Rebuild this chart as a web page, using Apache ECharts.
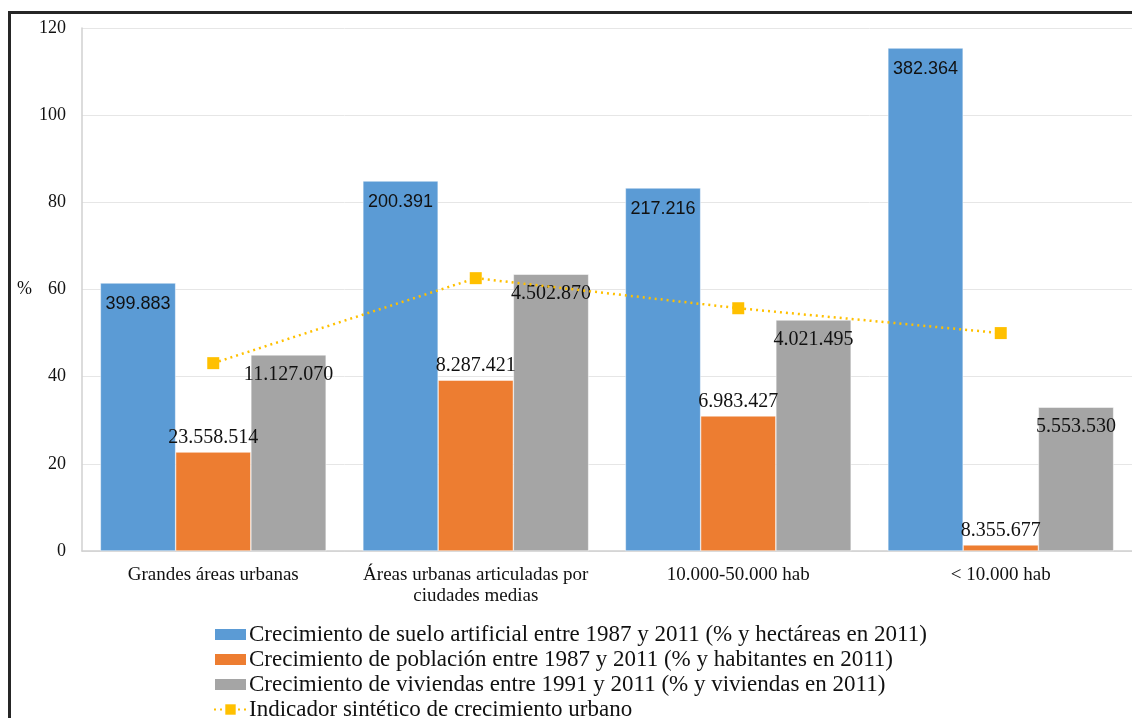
<!DOCTYPE html>
<html>
<head>
<meta charset="utf-8">
<script src="https://cdn.jsdelivr.net/npm/echarts@6/dist/echarts.min.js"></script>
<style>
  html, body { margin: 0; padding: 0; background: #fff; }
  #chart { width: 1132px; height: 718px; }
</style>
</head>
<body>
<div id="chart"></div>
<script>
// Categories of urban areas
const categories = [
  'Grandes áreas urbanas',
  'Áreas urbanas articuladas por\nciudades medias',
  '10.000-50.000 hab',
  '< 10.000 hab'
];

// Growth percentages
const sueloPct = [61.5, 84.9, 83.3, 115.4];
const poblacionPct = [22.7, 39.2, 31.0, 1.4];
const viviendasPct = [45.0, 63.5, 53.0, 33.0];
const indicador = [43.1, 62.6, 55.7, 50.0];

// Absolute figures in 2011 shown on the bars
const hectareas = ['399.883', '200.391', '217.216', '382.364'];
const habitantes = ['23.558.514', '8.287.421', '6.983.427', '8.355.677'];
const viviendas = ['11.127.070', '4.502.870', '4.021.495', '5.553.530'];

const yTicks = { min: 0, max: 120, interval: 20 };

const serif = '"Liberation Serif", "Times New Roman", serif';
const sans = '"Liberation Sans", Arial, sans-serif';

const chart = echarts.init(document.getElementById('chart'));

chart.setOption({
  animation: false,
  backgroundColor: '#fff',
  graphic: [{
    type: 'rect',
    shape: { x: 9.5, y: 12.5, width: 1300, height: 900 },
    style: { fill: 'none', stroke: '#262626', lineWidth: 3 },
    silent: true,
    z: 100
  }],
  grid: { left: 82, top: 28, width: 1052, height: 523, containLabel: false },
  legend: {
    orient: 'vertical',
    left: 213,
    top: 622,
    height: 120,
    padding: 0,
    itemWidth: 33,
    itemHeight: 13,
    itemGap: 0,
    textStyle: { fontFamily: serif, fontSize: 23, color: '#111', lineHeight: 25, padding: [0, 0, 0, -3] },
    data: [
      { name: 'Crecimiento de suelo artificial entre 1987 y 2011 (% y hectáreas en 2011)', icon: 'rect' },
      { name: 'Crecimiento de población entre 1987 y 2011 (% y habitantes en 2011)', icon: 'rect' },
      { name: 'Crecimiento de viviendas entre 1991 y 2011 (% y viviendas en 2011)', icon: 'rect' },
      { name: 'Indicador sintético de crecimiento urbano' }
    ]
  },
  xAxis: {
    type: 'category',
    data: categories,
    axisLine: { lineStyle: { color: '#d0d0d0', width: 1.5 } },
    axisTick: { show: false },
    axisLabel: { fontFamily: serif, fontSize: 19, color: '#111', margin: 14, lineHeight: 21, interval: 0 }
  },
  yAxis: {
    type: 'value',
    min: yTicks.min,
    max: yTicks.max,
    interval: yTicks.interval,
    name: '%',
    nameLocation: 'middle',
    nameRotate: 0,
    nameGap: 50,
    nameTextStyle: { fontFamily: serif, fontSize: 18, color: '#111' },
    axisLine: { show: true, lineStyle: { color: '#d0d0d0', width: 1.5 } },
    axisTick: { show: false },
    splitLine: { lineStyle: { color: '#e6e6e6', width: 1 } },
    axisLabel: { fontFamily: serif, fontSize: 18, color: '#111', margin: 16 }
  },
  series: [
    {
      name: 'Crecimiento de suelo artificial entre 1987 y 2011 (% y hectáreas en 2011)',
      type: 'bar',
      data: sueloPct,
      barGap: '0%',
      barCategoryGap: '14%',
      itemStyle: { color: '#5B9BD5', borderColor: '#ffffff', borderWidth: 0.5 },
      label: {
        show: true,
        position: 'insideTop',
        distance: 12,
        fontFamily: sans,
        fontSize: 18,
        color: '#111',
        formatter: p => hectareas[p.dataIndex]
      }
    },
    {
      name: 'Crecimiento de población entre 1987 y 2011 (% y habitantes en 2011)',
      type: 'bar',
      data: poblacionPct,
      itemStyle: { color: '#ED7D31', borderColor: '#ffffff', borderWidth: 0.5 },
      label: {
        show: true,
        position: 'top',
        distance: 4,
        fontFamily: serif,
        fontSize: 20,
        color: '#111',
        formatter: p => habitantes[p.dataIndex]
      }
    },
    {
      name: 'Crecimiento de viviendas entre 1991 y 2011 (% y viviendas en 2011)',
      type: 'bar',
      data: viviendasPct,
      itemStyle: { color: '#A5A5A5', borderColor: '#ffffff', borderWidth: 0.5 },
      label: {
        show: true,
        position: 'insideTop',
        distance: 10,
        fontFamily: serif,
        fontSize: 20,
        color: '#111',
        formatter: p => viviendas[p.dataIndex]
      }
    },
    {
      name: 'Indicador sintético de crecimiento urbano',
      type: 'line',
      data: indicador,
      symbol: 'rect',
      symbolSize: 12,
      itemStyle: { color: '#FFC000' },
      lineStyle: { color: '#FFC000', width: 2.5, type: [2, 4] },
      z: 5
    }
  ]
});
</script>
</body>
</html>
